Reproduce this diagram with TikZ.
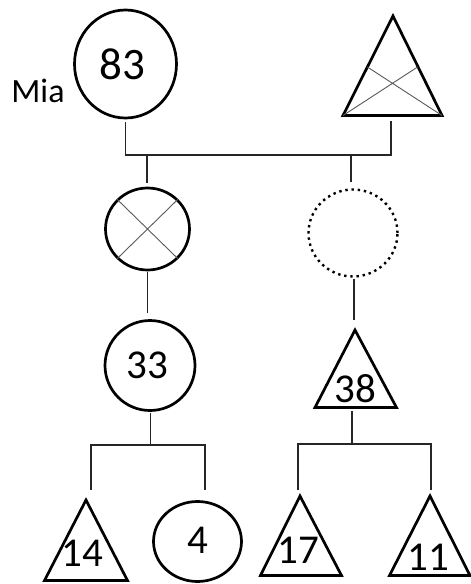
\documentclass[tikz,border=0pt]{standalone}
\usepackage{fontspec}
\setmainfont{Carlito}
\usetikzlibrary{shapes.geometric}
\begin{document}
\begin{tikzpicture}[x=1pt,y=-1pt,
  shapeline/.style={line width=2.7pt, line join=miter},
  ring/.style={draw, ellipse, shapeline, inner sep=0pt},
  dottedring/.style={ring, line width=2.4pt, dash pattern=on 2.4pt off 3.8pt},
  wire/.style={line width=1.2pt, black!85},
  crossline/.style={line width=0.9pt, black!65},
  num/.style={inner sep=0pt, font=\fontsize{41}{41}\selectfont},
  bignum/.style={inner sep=0pt, font=\fontsize{45}{45}\selectfont},
  personlabel/.style={inner sep=0pt, font=\fontsize{34}{34}\selectfont}]
\useasboundingbox (0,0) rectangle (471,584);

% ---- first generation ----
\node[ring, minimum width=102pt, minimum height=108pt] (mia) at (125.5,64) {};
\node[bignum] (l83) at (122,64.7) {83};
\node[personlabel, anchor=base] (lmia) at (38,102.3) {Mia};

\coordinate (pa-top) at (393,16);
\coordinate (pa-l) at (343,115.5);
\coordinate (pa-r) at (442,115.5);
\draw[shapeline] (pa-top) -- (pa-l) -- (pa-r) -- cycle;
\coordinate (pa-xl) at (367.4,67);
\coordinate (pa-xr) at (417.6,67);
\draw[crossline] (pa-l) -- (pa-xr) (pa-r) -- (pa-xl);

% ---- second generation ----
\node[ring, minimum width=84pt, minimum height=82pt] (lost) at (147.5,229) {};
\draw[crossline] (lost.north west) -- (lost.south east)
                 (lost.north east) -- (lost.south west);
\node[dottedring, minimum width=89pt, minimum height=87pt] (unk) at (353,233) {};

% ---- third generation ----
\node[ring, minimum width=90pt, minimum height=90pt] (c33) at (150,365.5) {};
\node[num] (l33) at (147.5,365.8) {33};

\coordinate (t38-top) at (355,330);
\coordinate (t38-l) at (315,407.5);
\coordinate (t38-r) at (396.5,407.5);
\draw[shapeline] (t38-top) -- (t38-l) -- (t38-r) -- cycle;
\node[num] (l38) at (355,388.8) {38};

% ---- fourth generation ----
\coordinate (t14-top) at (86,500);
\coordinate (t14-l) at (44.5,580.5);
\coordinate (t14-r) at (127.5,580.5);
\draw[shapeline] (t14-top) -- (t14-l) -- (t14-r) -- cycle;
\node[num] (l14) at (82.5,553.3) {14};

\node[ring, minimum width=88pt, minimum height=80pt] (c4) at (197.5,541.5) {};
\node[num] (l4) at (198.3,540.8) {4};

\coordinate (t17-top) at (300,496);
\coordinate (t17-l) at (260.5,575.5);
\coordinate (t17-r) at (341.5,575.5);
\draw[shapeline] (t17-top) -- (t17-l) -- (t17-r) -- cycle;
\node[num] (l17) at (298,550.2) {17};

\coordinate (t11-top) at (430,496);
\coordinate (t11-l) at (389.5,575.5);
\coordinate (t11-r) at (470,575.5);
\draw[shapeline] (t11-top) -- (t11-l) -- (t11-r) -- cycle;
\node[num] (l11) at (428.3,556.8) {11};

% ---- connector ends ----
\coordinate (mia-s) at (125.7,122);
\coordinate (pa-s) at (391,121);
\coordinate (bar1-l) at (125.7,155);
\coordinate (bar1-r) at (391,155);
\coordinate (bar1-a) at (147,155);
\coordinate (bar1-b) at (351,155);
\coordinate (lost-n) at (147,183);
\coordinate (unk-n) at (351,182);

\coordinate (lost-s) at (147.7,272);
\coordinate (c33-n) at (147.7,313);
\coordinate (unk-s) at (354,279);
\coordinate (t38-n) at (354,320);

\coordinate (c33-s) at (150.7,412.5);
\coordinate (bar2-m) at (150.7,445);
\coordinate (bar2-l) at (91,445);
\coordinate (bar2-r) at (205,445);
\coordinate (t14-n) at (91,490);
\coordinate (c4-n) at (205,490);

\coordinate (t38-s) at (352,411);
\coordinate (bar3-m) at (352,444);
\coordinate (bar3-l) at (298,444);
\coordinate (bar3-r) at (431,444);
\coordinate (t17-n) at (298,490);
\coordinate (t11-n) at (431,490);

% ---- connectors ----
\draw[wire] (mia-s) -- (bar1-l) -- (bar1-r) -- (pa-s);
\draw[wire] (bar1-a) -- (lost-n);
\draw[wire] (bar1-b) -- (unk-n);
\draw[wire] (lost-s) -- (c33-n);
\draw[wire] (unk-s) -- (t38-n);
\draw[wire] (c33-s) -- (bar2-m);
\draw[wire] (t14-n) -- (bar2-l) -- (bar2-r) -- (c4-n);
\draw[wire] (t38-s) -- (bar3-m);
\draw[wire] (t17-n) -- (bar3-l) -- (bar3-r) -- (t11-n);
\end{tikzpicture}
\end{document}
